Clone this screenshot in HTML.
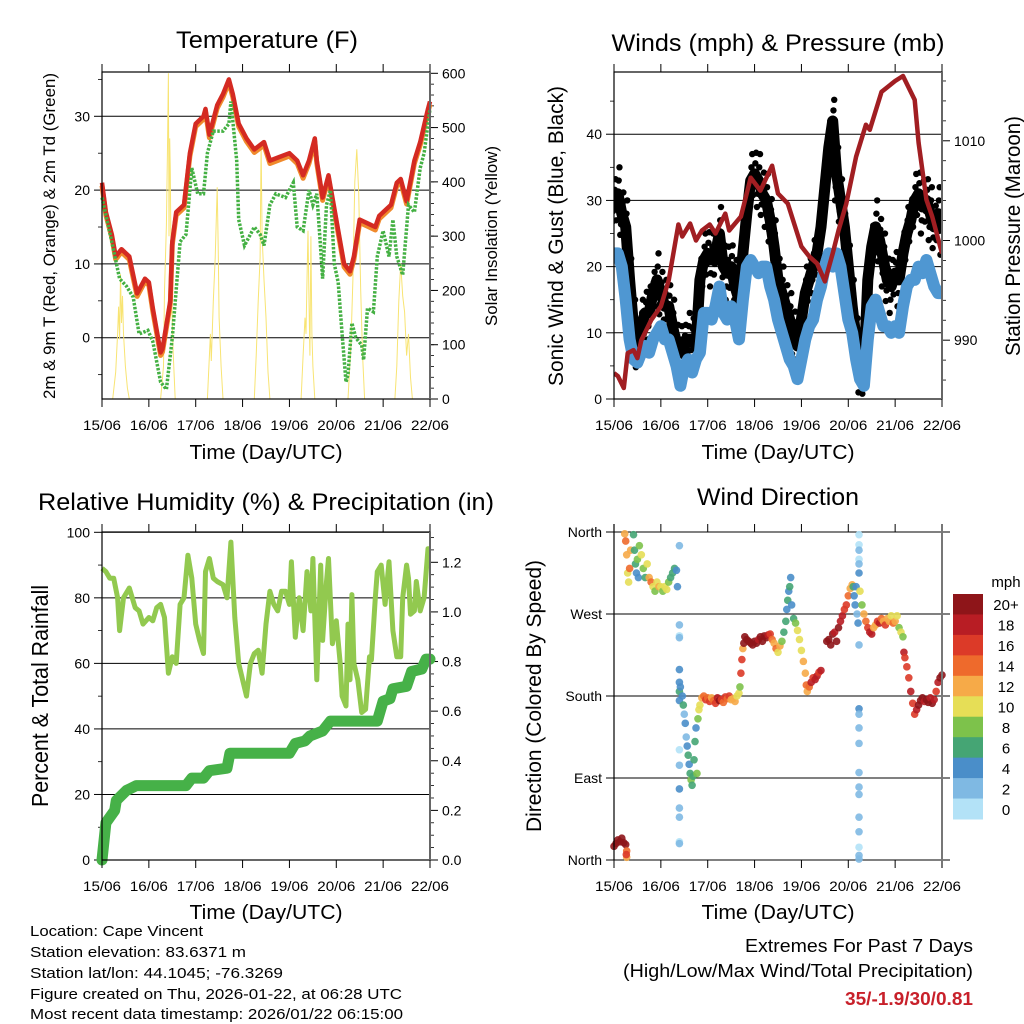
<!DOCTYPE html>
<html><head><meta charset="utf-8"><style>
html,body{margin:0;padding:0;background:#fff;}
svg{display:block;font-family:"Liberation Sans",sans-serif;}
</style></head><body>
<svg id="svg" width="1024" height="1024" viewBox="0 0 1024 1024" xmlns="http://www.w3.org/2000/svg">
<defs><clipPath id="windclip"><rect x="614" y="72" width="328" height="327"/></clipPath></defs>
<rect width="1024" height="1024" fill="#fff"/>
<g id="layer"></g>
<text x="267" y="48" text-anchor="middle" font-size="24" textLength="182" lengthAdjust="spacingAndGlyphs">Temperature (F)</text>
<text x="778" y="51" text-anchor="middle" font-size="24" textLength="333" lengthAdjust="spacingAndGlyphs">Winds (mph) &amp; Pressure (mb)</text>
<text x="266" y="510" text-anchor="middle" font-size="24" textLength="456" lengthAdjust="spacingAndGlyphs">Relative Humidity (%) &amp; Precipitation (in)</text>
<text x="778" y="505" text-anchor="middle" font-size="24" textLength="162" lengthAdjust="spacingAndGlyphs">Wind Direction</text>
<text x="266" y="459" text-anchor="middle" font-size="20" textLength="153" lengthAdjust="spacingAndGlyphs">Time (Day/UTC)</text>
<text x="778" y="459" text-anchor="middle" font-size="20" textLength="153" lengthAdjust="spacingAndGlyphs">Time (Day/UTC)</text>
<text x="266" y="919" text-anchor="middle" font-size="20" textLength="153" lengthAdjust="spacingAndGlyphs">Time (Day/UTC)</text>
<text x="778" y="919" text-anchor="middle" font-size="20" textLength="153" lengthAdjust="spacingAndGlyphs">Time (Day/UTC)</text>
<text transform="translate(55,236) rotate(-90)" text-anchor="middle" font-size="17" textLength="326" lengthAdjust="spacingAndGlyphs">2m &amp; 9m T (Red, Orange) &amp; 2m Td (Green)</text>
<text transform="translate(497,236) rotate(-90)" text-anchor="middle" font-size="17" textLength="180" lengthAdjust="spacingAndGlyphs">Solar Insolation (Yellow)</text>
<text transform="translate(563,236) rotate(-90)" text-anchor="middle" font-size="21" textLength="300" lengthAdjust="spacingAndGlyphs">Sonic Wind &amp; Gust (Blue, Black)</text>
<text transform="translate(1020,236) rotate(-90)" text-anchor="middle" font-size="21" textLength="240" lengthAdjust="spacingAndGlyphs">Station Pressure (Maroon)</text>
<text transform="translate(48,696) rotate(-90)" text-anchor="middle" font-size="23" textLength="222" lengthAdjust="spacingAndGlyphs">Percent &amp; Total Rainfall</text>
<text transform="translate(541,696) rotate(-90)" text-anchor="middle" font-size="21" textLength="272" lengthAdjust="spacingAndGlyphs">Direction (Colored By Speed)</text>
<g font-size="15">
<text x="30" y="936" textLength="173" lengthAdjust="spacingAndGlyphs">Location: Cape Vincent</text>
<text x="30" y="957" textLength="216" lengthAdjust="spacingAndGlyphs">Station elevation: 83.6371 m</text>
<text x="30" y="978" textLength="253" lengthAdjust="spacingAndGlyphs">Station lat/lon: 44.1045; -76.3269</text>
<text x="30" y="999" textLength="372" lengthAdjust="spacingAndGlyphs">Figure created on Thu, 2026-01-22, at 06:28 UTC</text>
<text x="30" y="1019" textLength="373" lengthAdjust="spacingAndGlyphs">Most recent data timestamp: 2026/01/22 06:15:00</text>
</g>
<text x="973" y="952" text-anchor="end" font-size="18" textLength="228" lengthAdjust="spacingAndGlyphs">Extremes For Past 7 Days</text>
<text x="973" y="977" text-anchor="end" font-size="18" textLength="350" lengthAdjust="spacingAndGlyphs">(High/Low/Max Wind/Total Precipitation)</text>
<text x="973" y="1005" text-anchor="end" font-size="18" font-weight="bold" fill="#c8202a" textLength="128" lengthAdjust="spacingAndGlyphs">35/-1.9/30/0.81</text>
</svg>
<script>
// ---------- DATA ----------
const dayLabels = ["15/06","16/06","17/06","18/06","19/06","20/06","21/06","22/06"];
const tempTimes = [0,2,5,7,10,14,18,22,24,26,30,31,35,36,38,42,45,48,52,53,55,59,62,65,67,70,74,78,83,86,91,96,100,103,106,109,110,113,116,118,122,124,127,129,132,136,140,142,148,151,153,156,160,163,167,168];
const tempVals  = [21,17,14,11,12,11,6,8,7.5,4,-2,-1.5,5,13,17,18,25,29,30,31,27.5,31.5,33,35,33,29,27,25.5,26.5,24,24.5,25,24,22,24,27,24,19,22,19,13,10,9,11,16,15.5,15,16.5,18,21,21.5,18.5,24,26.5,31,32];
const dewTimes = [0,5,9,12.5,16,19,23.5,26,30,33,36,40,43,46,49,52,54,57,62,65,66,69,70,73,78,81,83,86,89,94,98,100,103,106,108,110,112,113,115,117,119,121,123,125,126,128,130,133,134,136,139,141,144,147,149,151,154,157,160,163,165,168];
const dewVals  = [19,13,8,7,5.5,0.5,1,-0.5,-6,-7,0,13,14,23,19.5,19.5,25,28,28,29,32,24,16,12.5,15,14,12.5,18,19.5,19,21,15,14.5,20,18,19.5,12,8,18,20,10,7.5,0.5,-6,-5,2,0,-1,-3,4,3.5,11,14.5,11,16,11,8.5,18,17,23,25,31];
const solarTimes = [0,5.5,7,8,8.5,9,9.5,10,10.5,11,12,13,14,30,31.5,32,33,33.5,34,34.3,34.7,35,35.5,36.5,37.5,54,55,55.5,56,57,58,59,59.5,60,61,62,78,79,80,81,81.5,82,83,84,85,86,102,103,104,104.5,105,105.5,106,106.5,107,107.5,108,109,126,127.5,128.5,129.5,130.5,131.5,132.5,133.5,134.5,150,151,152,153,154,155,156,157,158,159,168];
const solarVals  = [0,0,50,120,170,110,230,140,190,120,60,20,0,0,60,200,320,450,600,300,480,420,200,80,0,0,80,120,70,180,260,390,280,150,60,0,0,80,180,260,470,300,220,150,50,0,0,80,150,120,220,310,180,80,300,120,60,0,0,100,220,400,460,380,200,80,0,0,60,180,250,190,160,80,120,40,0,0];
const windVals = [22,22,20,15,9,6,5.5,7,8,7,9,10,11,9,9,7,5,2,5,6,4,6,7,13,13,12,14,17,13,12,14,12,9,15,20,21,20,19,20,20,17,15,12,10,8,6,5,3,6,9,11,12,15,17,20,22,20,22,20,16,12,10,6,3,2,9,14,15,13,11,11,10,11,10,14,17,18,18,20,19,21,19,17,16,16];
const gustVals = [30,31,28,26,18,11,8,11,13,13,16,18,16,14,14,11,8,7,8,9,9,8,18,21,22,21,22,25,20,19,20,17,15,22,28,33,34,33,31,30,27,23,18,16,14,12,10,8,12,16,18,20,22,26,32,38,42,34,30,26,20,14,9,5,4,18,23,26,24,21,18,17,19,18,22,25,27,30,31,29,30,28,26,28,25];
const presTimes = [0,2,5,7,10,12,14,19,24,28,33,35,39,42,45,49,52,57,59,65,70,75,81,84,89,96,100,104,108,112,115,119,124,129,131,137,144,148,154,156,160,163,168];
const presVals  = [986.7,986.4,985.2,988.7,989,988.2,990,992,993.4,996,1001.6,1000.4,1001.7,1000,1001,1001.6,1000.7,1002.7,1001,1002.4,1006.3,1005,1007.5,1004.7,1003.7,999.4,998.4,997.7,995.9,998.7,1001,1003.7,1008.4,1011.6,1011.1,1014.9,1016,1016.5,1014.1,1009.8,1004.1,1002.4,998.7];
const rhTimes = [0,2,4,6,8,9,11,14,17,19,21,24,26,28,30,32,34,36,38,40,42,44,46,48,50,52,53,55,57,59,62,64,66,68,70,72,74,76,78,80,82,84,86,88,90,92,94,96,97,99,101,103,105,107,108,110,112,113,115,116,118,120,122,123,125,126,127,128,129,131,133,135,137,138,140,141,143,145,147,149,151,153,154,156,157,158,160,161,163,165,167,168];
const rhVals  = [89,88,86,86,80,70,80,83,77,76,72,74,73,77,78,74,57,62,60,78,80,93,86,72,67,63,88,92,86,85,84,80,97,74,60,55,50,60,63,64,57,72,82,78,76,82,82,78,91,68,80,70,88,76,92,55,90,67,85,92,66,73,60,50,47,72,55,81,60,55,45,46,62,61,80,88,90,78,91,70,62,62,80,90,86,75,76,85,76,80,95,95];
const rainTimes = [0,2,6.5,7.3,12.5,17.6,43,46,52,55,64,65.5,96,99,104,106.5,113,117,141,144,147.5,149,156,158.6,163.8,166,168];
const rainVals  = [0,0.15,0.2,0.24,0.28,0.3,0.3,0.33,0.33,0.36,0.37,0.43,0.43,0.47,0.48,0.5,0.52,0.56,0.56,0.64,0.65,0.69,0.7,0.76,0.77,0.81,0.81];
const dirTimes = [0,1,2,3,4,5,6,6.5,6.5,6.3,5.5,6,6.5,7,7.5,8,8.5,10,10.5,11,11.5,12,12.5,13,14,15,16,17,18,19,20,21,22,23,24,25,26,27,28,29,30,31,32,32.5,
33.5,33.5,33.5,33.5,33.5,33.5,33.5,33.5,33.5,33.5,33.5,33.5,33.5,33.5,33.5,
34,35,35.5,36,36.5,37,37.5,38,38.5,39,39.5,40,40.5,41,41.5,42,42.5,43,43.5,44,45,
46,47,48,49,50,51,52,53,54,55,56,57,58,59,60,61,62,63,64,64.5,65,65.5,66,66.5,
67,68,69,70,71,72,73,74,75,76,77,78,79,80,81,82,83,84,85,86,87,88,88.5,89,89.5,90,90.5,91,92,93,94,95,96,97,98,98.5,99,100,101,102,103,104,105,106,
109,110,111,112,113,114,115,116,117,118,119,120,121,122,122.5,123,123.5,124,124.5,125,
125.5,125.5,125.5,125.5,125.5,125.5,125.5,125.5,125.5,125.5,125.5,125.5,125.5,125.5,125.5,125.5,125.5,125.5,125.5,
126,127,128,129,130,131,132,133,134,135,136,137,138,139,140,141,142,143,144,145,146,147,148,148.5,149,150,151,152,153,154,155,156,157,158,159,160,161,162,163,164,165,166,167,168];
const dirVals = [15,18,22,20,24,19,17,10,3,6,358,350,335,315,305,320,340,357,340,325,315,330,310,345,335,320,310,325,310,305,300,295,305,300,300,295,300,297,305,310,315,320,318,300,
345,258,246,244,209,195,185,175,121,104,78,57,47,20,18,
190,180,170,160,150,135,125,115,105,95,88,82,92,110,130,145,95,155,165,170,178,
180,176,178,174,178,175,172,178,175,176,173,179,177,180,176,177,174,180,183,190,205,220,232,238,
245,242,240,238,236,240,238,242,245,240,246,244,247,248,242,238,232,228,235,240,250,262,275,285,295,300,310,280,265,260,252,242,230,218,205,192,185,190,195,200,198,202,206,208,
240,242,236,248,250,240,255,262,268,275,280,290,298,302,300,290,280,300,270,260,
357,346,340,330,325,315,236,166,160,145,128,96,80,72,47,31,14,5,1,
295,280,270,262,255,250,248,255,258,262,260,265,262,258,265,262,268,260,262,268,255,250,245,228,222,212,200,185,172,160,165,170,175,178,174,176,173,178,172,176,185,195,200,203];
const dirSpeeds = [21,21,21,21,21,21,21,14,13,16,12,14,13,11,10,14,12,6,7,6,5,8,4,9,10,9,7,10,12,14,10,8,11,12,10,9,11,10,8,7,6,7,5,4,
2,2,1,2,4,5,6,4,1,3,4,2,2,1,2,
5,4,6,3,4,3,4,6,4,7,8,6,7,7,6,4,8,8,10,11,13,
15,17,14,16,13,15,16,19,20,17,14,16,15,17,13,12,12,11,10,8,17,16,13,20,
21,20,21,20,21,20,21,19,20,21,20,20,18,17,14,12,14,10,12,9,7,6,5,6,5,6,5,4,6,8,10,11,11,12,13,15,12,14,18,17,19,18,17,19,
20,21,21,20,19,21,20,19,18,17,17,14,12,12,7,5,4,4,3,4,
1,1,2,1,2,4,3,4,3,2,3,2,3,3,3,2,1,2,2,
10,8,12,14,16,19,18,13,12,16,18,14,12,17,13,12,11,14,12,10,8,10,8,18,16,17,16,19,17,16,18,20,21,20,19,21,20,19,20,18,16,19,20,20];
const speedBins = ["0","2","4","6","8","10","12","14","16","18","20+"];
const speedColors = ["#b3e2f7","#7fb9e3","#4a8ec9","#45a574","#7dc24b","#e6de56","#f6aa48","#ee6a2c","#dc3a28","#b81d24","#8e1519"];

// ---------- DRAWING ----------
const NS="http://www.w3.org/2000/svg";
const layer=document.getElementById('layer');
function mk(tag,attrs,parent){const e=document.createElementNS(NS,tag);for(const k in attrs)e.setAttribute(k,attrs[k]);(parent||layer).appendChild(e);return e;}
function scale(d0,d1,r0,r1){return v=>r0+(v-d0)*(r1-r0)/(d1-d0);}
function pts(xs,ys,fx,fy){return xs.map((t,i)=>fx(t).toFixed(1)+','+fy(ys[i]).toFixed(1)).join(' ');}

const L=102,R=430,L2=614,R2=942,T1=72,B1=399,T2=532,B2=860;

function frame(g,x0,x1,y0,y1,prefix){
  const fx=scale(0,168,x0,x1);
  for(let d=0;d<=7;d++){
    const x=fx(d*24);
    let t=mk('line',{x1:x,y1:y0-8,x2:x,y2:y0,stroke:'#000','stroke-width':1},g);
    
    t=mk('line',{x1:x,y1:y1,x2:x,y2:y1+8,stroke:'#000','stroke-width':1},g);
    
    const lb=mk('text',{x:x,y:y1+31,'text-anchor':'middle','font-size':14,textLength:38,lengthAdjust:'spacingAndGlyphs'},g);
    lb.textContent=dayLabels[d];
    
  }
}
function box(g,x0,x1,y0,y1,prefix){
  const b=mk('rect',{x:x0,y:y0,width:x1-x0,height:y1-y0,fill:'none',stroke:'#000','stroke-width':1.2},g);
  
  const rr=mk('line',{x1:x1,y1:y0,x2:x1,y2:y1,stroke:'#666','stroke-width':2},g);
  
}
function yAxis(g,fy,ticks,labels,x0,x1,side,minor,prefix,grid){
  ticks.forEach((v,i)=>{
    const y=fy(v);
    if(grid){const gl=mk('line',{x1:x0,y1:y,x2:x1,y2:y,stroke:'#000','stroke-width':1},g);
      }
    const xa=side==='left'?x0:x1, dir=side==='left'?-1:1;
    const tk=mk('line',{x1:xa,y1:y,x2:xa+dir*8,y2:y,stroke:'#000','stroke-width':1},g);
    
    const lb=mk('text',{x:side==='left'?xa-12:xa+12,y:y+5,'text-anchor':side==='left'?'end':'start','font-size':14},g);
    lb.textContent=labels[i];
    
  });
  (minor||[]).forEach(v=>{const y=fy(v);const xa=side==='left'?x0:x1,dir=side==='left'?-1:1;
    const tk=mk('line',{x1:xa,y1:y,x2:xa+dir*4,y2:y,stroke:'#000','stroke-width':0.8},g);
    });
}
function range(a,b,s){const r=[];for(let v=a;v<=b+1e-9;v+=s)r.push(+v.toFixed(3));return r;}

// ---- Panel 1: temperature ----
(function(){
  const g=mk('g',{});
  const fx=scale(0,168,L,R), fy=scale(-8.3,36,B1,T1), fs=scale(0,600,B1,73.3);
  yAxis(g,fy,[0,10,20,30],["0","10","20","30"],L,R,'left',[-5,5,15,25,35],'temp-y',true);
  yAxis(g,fs,[0,100,200,300,400,500,600],["0","100","200","300","400","500","600"],L,R,'right',range(20,580,20),'solar-y',false);
  let p=mk('polyline',{points:pts(solarTimes,solarVals,fx,fs),fill:'none',stroke:'#f8e473','stroke-width':1},g);
  
  p=mk('polyline',{points:pts(tempTimes,tempVals.map(v=>v-0.4),fx,fy),fill:'none',stroke:'#f08a2c','stroke-width':5,'stroke-linejoin':'round'},g);
  
  p=mk('polyline',{points:pts(tempTimes,tempVals,fx,fy),fill:'none',stroke:'#d42a22','stroke-width':4.5,'stroke-linejoin':'round'},g);
  
  p=mk('polyline',{points:pts(dewTimes,dewVals,fx,fy),fill:'none',stroke:'#44b043','stroke-width':3.5,'stroke-dasharray':'2.5 1.5'},g);
  
  box(g,L,R,T1,B1,'temp');frame(g,L,R,T1,B1,'temp');
})();

// ---- Panel 2: winds ----
(function(){
  const g=mk('g',{});
  const fx=scale(0,168,L2,R2), fy=scale(0,49.4,B1,T1), fp=scale(984.1,1016.9,B1,T1);
  yAxis(g,fy,[0,10,20,30,40],["0","10","20","30","40"],L2,R2,'left',[5,15,25,35,45],'wind-y',true);
  yAxis(g,fp,[990,1000,1010],["990","1000","1010"],L2,R2,'right',[986,988,992,994,996,998,1002,1004,1006,1008,1012,1014,1016],'pressure-y',false);
  const wt=windVals.map((v,i)=>i*2);
  const cg=mk('g',{'clip-path':'url(#windclip)'},g);
  
  let p=mk('polyline',{points:pts(wt,gustVals,fx,fy),fill:'none',stroke:'#000','stroke-width':11,'stroke-linejoin':'round'},cg);
  
  gustVals.forEach((v,i)=>{[-4,-2,2,4].forEach(o=>{
    const c=mk('circle',{cx:fx(wt[i]+o*0.2),cy:fy(v+o*(i%2?1:0.8)),r:3.2,fill:'#000'},cg);
    });});
  p=mk('polyline',{points:pts(wt,windVals,fx,fy),fill:'none',stroke:'#4f97d2','stroke-width':12,'stroke-linejoin':'round'},cg);
  
  p=mk('polyline',{points:pts(presTimes,presVals,fx,fp),fill:'none',stroke:'#a11e22','stroke-width':4.5,'stroke-linejoin':'round'},cg);
  
  box(g,L2,R2,T1,B1,'wind');frame(g,L2,R2,T1,B1,'wind');
})();

// ---- Panel 3: RH & rain ----
(function(){
  const g=mk('g',{});
  const fx=scale(0,168,L,R), fy=scale(0,100,B2,532.3), fr=scale(0,1.2,B2,562.3);
  yAxis(g,fy,[0,20,40,60,80,100],["0","20","40","60","80","100"],L,R,'left',[10,30,50,70,90],'rh-y',true);
  yAxis(g,fr,[0,0.2,0.4,0.6,0.8,1.0,1.2],["0.0","0.2","0.4","0.6","0.8","1.0","1.2"],L,R,'right',range(0.05,1.3,0.05).filter(v=>Math.abs(v*5-Math.round(v*5))>0.01),'rain-y',false);
  let p=mk('polyline',{points:pts(rhTimes,rhVals,fx,fy),fill:'none',stroke:'#92c94f','stroke-width':5,'stroke-linejoin':'round'},g);
  
  p=mk('polyline',{points:pts(rainTimes,rainVals,fx,fr),fill:'none',stroke:'#46b148','stroke-width':11,'stroke-linejoin':'round','stroke-linecap':'round'},g);
  
  box(g,L,R,T2,B2,'rh');frame(g,L,R,T2,B2,'rh');
})();

// ---- Panel 4: wind direction ----
(function(){
  const g=mk('g',{});
  const fx=scale(0,168,L2,R2), fy=scale(0,360,B2,T2);
  yAxis(g,fy,[0,90,180,270,360],["North","East","South","West","North"],L2-0,R2+8,'left',[],'dir-y',true);
  dirTimes.forEach((t,i)=>{
    const s=dirSpeeds[i];const bin=Math.min(10,Math.floor(s/2));
    const c=mk('circle',{cx:fx(t),cy:fy(dirVals[i]),r:3.8,fill:speedColors[bin],'fill-opacity':0.9},g);
    
  });
  frame(g,L2,R2,T2,B2,'dir');
  const ax=mk('line',{x1:L2,y1:T2-8,x2:L2,y2:B2,stroke:'#000','stroke-width':1.2},g);
  
  const rr=mk('line',{x1:R2,y1:T2-8,x2:R2,y2:B2+8,stroke:'#777','stroke-width':2},g);
  
  const lg=mk('g',{});
  const mph=mk('text',{x:1006,y:587,'text-anchor':'middle','font-size':15},lg);mph.textContent='mph';
  
  const h=225/11;
  for(let i=0;i<11;i++){
    const k=10-i, y=594+i*h;
    const r=mk('rect',{x:953,y:y,width:30,height:h+0.5,fill:speedColors[k]},lg);
    
    const tx=mk('text',{x:1006,y:y+h/2+6,'text-anchor':'middle','font-size':15},lg);tx.textContent=speedBins[k];
    
  }
})();
</script>
</body></html>
